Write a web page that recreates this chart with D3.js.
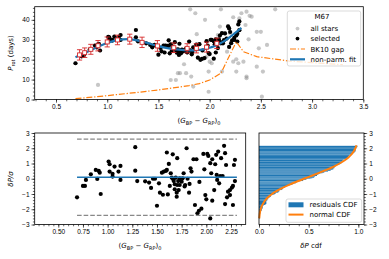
<!DOCTYPE html>
<html><head><meta charset="utf-8">
<script src="https://cdn.jsdelivr.net/npm/d3@7"></script>
<style>
body{margin:0;background:#fff}
svg{font-family:"DejaVu Sans",sans-serif}
.tick text{font-size:6.5px;fill:#000}
.tick line{stroke:#000;stroke-width:0.6}
</style></head><body>
<svg id="fig" width="389" height="259"></svg>
<script>
// selected M67 stars: colour, period (days), normalised residual
const starX = [0.69,0.75,0.77,0.78,0.83,0.88,0.895,0.91,0.92,0.93,1.01,1.02,1.02,1.05,1.05,1.07,1.11,1.13,1.13,1.28,1.28,1.30,1.38,1.42,1.44,1.46,1.48,1.50,1.52,1.53,1.55,1.56,1.57,1.59,1.60,1.60,1.61,1.62,1.63,1.64,1.65,1.66,1.665,1.67,1.68,1.68,1.69,1.70,1.70,1.705,1.705,1.715,1.72,1.73,1.73,1.75,1.76,1.77,1.78,1.785,1.80,1.81,1.825,1.83,1.84,1.85,1.87,1.885,1.90,1.91,1.925,1.93,1.95,1.97,1.98,1.99,2.00,2.01,2.02,2.04,2.04,2.05,2.06,2.06,2.08,2.09,2.10,2.105,2.11,2.12,2.13,2.14,2.15,2.165,2.18,2.19,2.19,2.20,2.21,2.22,2.24,2.26,2.27,2.27,2.28,2.29,2.29,2.24]
const starP = [18.2,21.7,22.1,23.1,25.1,27.1,26.2,27.7,27.8,24.6,31.4,31.2,29.9,30.0,29.6,31.6,31.2,29.9,32.4,34.9,31.2,29.2,28.2,27.4,26.2,27.4,27.1,22.5,25.9,24.2,27.1,23.6,27.1,27.0,27.0,29.7,23.2,27.7,24.3,26.2,25.5,28.8,25.1,24.9,24.3,23.5,25.2,23.0,22.4,28.0,24.1,24.6,23.2,25.0,24.0,24.4,24.9,25.6,23.6,23.8,29.1,24.7,22.7,23.9,26.2,25.7,27.6,21.0,27.8,19.9,20.4,24.6,20.8,29.3,27.1,23.3,22.8,30.0,29.9,20.5,29.2,27.8,30.2,23.6,25.8,30.2,32.1,28.8,28.2,33.3,28.2,29.8,33.2,30.6,36.7,35.7,26.4,33.9,28.3,29.7,30.9,32.2,33.0,29.1,37.7,34.8,39.2,29.9]
const starRes = [-1.22,-0.47,-0.47,-0.08,0.29,0.58,-0.01,0.51,0.40,-1.0,1.13,0.95,0.47,0.32,0.14,0.8,0.47,-0.08,0.84,2.07,0.53,-0.15,-0.17,-0.25,-0.6,0,0,-1.77,-0.3,-0.91,0.4,-1.05,0.47,0.51,0.58,1.72,-1.03,0.97,-0.47,0.36,0.07,1.6,-0.04,-0.15,-0.36,-0.69,0.07,-0.91,-1.18,1.35,-0.41,-0.15,-0.74,0.03,-0.41,-0.19,0.03,0.36,-0.5,-0.41,2.0,0,-0.91,-0.34,0.69,0.47,1.28,-1.72,1.28,-2.27,-2.1,-0.21,-1.96,1.63,0.62,-1.07,-1.35,1.63,1.5,-2.6,1.02,0.36,1.28,-1.44,-0.74,0.95,1.57,0.25,-0.08,1.78,-0.3,0.18,1.35,0.18,2.16,1.68,-1.66,0.9,-1.22,-0.85,-0.74,-0.58,-0.47,-1.72,0.9,-0.15,1.24,-1.07]

// the rest of "all stars"
const otherX = [0.91,1.81,1.874,1.62,1.67,1.69,1.71,1.75,1.77,1.82,1.955,2.11,2.23,2.29,2.31,2.36,2.39,2.41,2.64,2.35,2.46,2.50,2.38,2.56,2.48,2.46,2.52,2.26,2.33,2.26,2.36,1.99,2.51,1.86,2.10,2.08,2.20,1.97,2.00,2.02,2.17,2.23,2.28,1.99,2.12,2.36,1.84]
const otherP = [7.3,45.3,32.8,9.8,9.8,13.2,13.2,17.7,13.2,11.5,40,45.3,41.3,40.8,43.3,44.1,42,41.6,45.3,37.4,34,34,30.2,27.4,25.7,16.5,14,20.2,19,14,11.5,3.9,1.4,43.3,36.6,32.4,33.3,21.5,19,18.2,24,19,18.2,14,14,10.7,6.5]

// binned means
const binX = [0.73,0.78,0.84,0.91,1.00,1.10,1.22,1.34,1.49,1.65,1.78,1.87,1.97,2.07]
const binP = [22.4,23.5,25.2,27.0,28.9,29.9,30.3,28.7,26.9,26.0,25.7,25.7,26.3,28.2]
const binErr = [2.6,2.4,2.5,2.6,2.5,2.4,2.5,2.6,2.7,2.4,2.3,2.3,2.5,2.6]

// non-parametric fit
const fitX = [0.69,0.75,0.8,0.85,0.9,0.95,1.0,1.05,1.1,1.15,1.2,1.25,1.3,1.35,1.4,1.45,1.5,1.55,1.6,1.65,1.7,1.75,1.8,1.85,1.9,1.95,2.0,2.05,2.1,2.15,2.2,2.25,2.31]
const fitP = [21.2,22.6,23.8,25.0,26.3,27.4,28.4,29.2,29.8,30.2,30.3,30.1,29.6,29.0,28.3,27.5,26.8,26.2,25.7,25.3,25.0,24.8,24.7,24.7,24.9,25.3,26.0,26.9,28.1,29.6,31.4,33.5,36.0]

// BK10 gap
const gapX = [0.69,0.9,1.1,1.3,1.5,1.7,1.8,1.9,2.0,2.11,2.26,2.33,2.46,2.78,3.0,3.3]
const gapP = [0.4,1.4,2.5,3.6,4.8,6.2,7.0,8.0,9.8,13.2,29.0,24.0,21.5,19.3,18.5,17.5]

// normal CDF
const normY = [-2.6,-2.4,-2.2,-2.0,-1.8,-1.6,-1.4,-1.2,-1.0,-0.8,-0.6,-0.4,-0.2,0,0.2,0.4,0.6,0.8,1.0,1.2,1.4,1.6,1.8,2.0,2.2]
const normF = [0.003,0.006,0.010,0.017,0.027,0.043,0.064,0.093,0.131,0.179,0.236,0.302,0.375,0.452,0.532,0.610,0.684,0.752,0.811,0.860,0.900,0.931,0.954,0.970,0.981]

const resMean = 0.1, resHi = 2.6, resLo = -2.4

const BLUE="#1f77b4", ORANGE="#ff7f0e", RED="#d62728"
const svg = d3.select("#fig")

function axisG(orient, scale, pos, major, minor, fmt){
  const mk = orient=="bottom" ? d3.axisBottom : orient=="left" ? d3.axisLeft : d3.axisRight
  const tr = orient=="bottom" ? "translate(0,"+pos+")" : "translate("+pos+",0)"
  svg.append("g").attr("transform",tr)
    .call(mk(scale).tickValues(minor).tickSize(1.8).tickFormat(""))
    .call(g=>g.select(".domain").remove())
  svg.append("g").attr("transform",tr)
    .call(mk(scale).tickValues(major).tickSize(3.2).tickPadding(2).tickFormat(fmt))
    .call(g=>g.select(".domain").remove())
}
function frame(x0,y0,x1,y1){
  svg.append("rect").attr("x",x0).attr("y",y0).attr("width",x1-x0).attr("height",y1-y0)
    .attr("fill","none").attr("stroke","#000").attr("stroke-width",0.8)
}
function mathText(x,y,parts,rot){
  const t = svg.append("text").attr("x",x).attr("y",y).attr("text-anchor","middle").style("font-size","7px")
  if(rot) t.attr("transform","rotate(-90,"+x+","+y+")")
  let shift = 0
  parts.forEach(p=>{
    const s = t.append("tspan").text(p[0])
    const want = p[1]=="sub" ? 1.6 : 0
    if(want!=shift){ s.attr("dy",want-shift); shift=want }
    if(p[1]=="i") s.style("font-style","italic")
    if(p[1]=="sub") s.style("font-size","5px")
  })
}
const steps = (a,b,s)=>d3.range(Math.round((b-a)/s)+1).map(i=>+(a+i*s).toFixed(3))

// ---------- top panel
const xT = d3.scaleLinear().domain([0.292,3.5]).range([34.7,363.3])
const yT = d3.scaleLinear().domain([0,46.6]).range([99.5,6.7])
svg.append("clipPath").attr("id","cT").append("rect").attr("x",34.7).attr("y",6.7).attr("width",328.6).attr("height",92.8)
const gT = svg.append("g").attr("clip-path","url(#cT)")
gT.selectAll(null).data(d3.zip(otherX.concat(starX),otherP.concat(starP))).join("circle")
  .attr("cx",d=>xT(d[0])).attr("cy",d=>yT(d[1])).attr("r",2.1).attr("fill","#808080").attr("opacity",0.45)
gT.selectAll(null).data(d3.zip(starX,starP)).join("circle")
  .attr("cx",d=>xT(d[0])).attr("cy",d=>yT(d[1])).attr("r",2.1).attr("fill","#000")
gT.append("path").datum(d3.zip(gapX,gapP))
  .attr("d",d3.line().x(d=>xT(d[0])).y(d=>yT(d[1])))
  .attr("fill","none").attr("stroke",ORANGE).attr("stroke-width",1.2).attr("stroke-dasharray","6,1.8,1.3,1.8")
gT.append("path").datum(d3.zip(fitX,fitP))
  .attr("d",d3.line().curve(d3.curveMonotoneX).x(d=>xT(d[0])).y(d=>yT(d[1])))
  .attr("fill","none").attr("stroke",BLUE).attr("stroke-width",2.2)
const bins = d3.zip(binX,binP,binErr)
gT.selectAll(null).data(bins).join("path")
  .attr("d",d=>{const x=xT(d[0]),a=yT(d[1]-d[2]),b=yT(d[1]+d[2]);return "M"+x+","+a+"V"+b+"M"+(x-2.6)+","+a+"h5.2M"+(x-2.6)+","+b+"h5.2"})
  .attr("stroke",RED).attr("stroke-width",0.9).attr("fill","none")
gT.selectAll(null).data(bins).join("rect")
  .attr("x",d=>xT(d[0])-2).attr("y",d=>yT(d[1])-2).attr("width",4).attr("height",4)
  .attr("fill","#fff").attr("stroke",RED).attr("stroke-width",0.9)
frame(34.7,6.7,363.3,99.5)
axisG("left",yT,34.7,[0,10,20,30,40],steps(0,46,2),d3.format("d"))
axisG("bottom",xT,99.5,[0.5,1,1.5,2,2.5,3,3.5],steps(0.3,3.5,0.1),d3.format(".1f"))
mathText(199,123,[["(","n"],["G","i"],["BP","sub"],[" − ","n"],["G","i"],["RP","sub"],[")","n"],["0","sub"]])
mathText(13,53,[["P","i"],["rot","sub"],[" (days)","n"]],true)

// legend top
const lg = svg.append("g")
lg.append("rect").attr("x",287.3).attr("y",11).attr("width",73.4).attr("height",55).attr("rx",2)
  .attr("fill","#fff").attr("fill-opacity",0.8).attr("stroke","#ccc").attr("stroke-width",0.7)
lg.append("text").attr("x",322).attr("y",19.3).attr("text-anchor","middle").style("font-size","7px").text("M67")
const legRows = [["all stars",28.6],["selected",38.6],["BK10 gap",49],["non-parm. fit",59.3]]
lg.selectAll(null).data(legRows).join("text").attr("x",310.5).attr("y",d=>d[1]+2.5).style("font-size","7px").text(d=>d[0])
lg.append("circle").attr("cx",297.5).attr("cy",28.6).attr("r",1.9).attr("fill","#808080").attr("opacity",0.45)
lg.append("circle").attr("cx",297.5).attr("cy",38.6).attr("r",1.9).attr("fill","#000")
lg.append("line").attr("x1",290).attr("x2",305).attr("y1",49).attr("y2",49).attr("stroke",ORANGE).attr("stroke-width",1.2).attr("stroke-dasharray","6,1.8,1.3,1.8")
lg.append("line").attr("x1",290).attr("x2",305).attr("y1",59.3).attr("y2",59.3).attr("stroke",BLUE).attr("stroke-width",2.2)

// ---------- bottom left: residuals
const xB = d3.scaleLinear().domain([0.261,2.399]).range([34.7,245.7])
const yB = d3.scaleLinear().domain([-3,3]).range([224.5,133])
svg.selectAll(null).data(d3.zip(starX,starRes)).join("circle")
  .attr("cx",d=>xB(d[0])).attr("cy",d=>yB(d[1])).attr("r",2.1).attr("fill","#000")
const xr = d3.extent(starX)
svg.selectAll(null).data([resHi,resLo]).join("line")
  .attr("x1",xB(xr[0])).attr("x2",xB(xr[1]+0.02)).attr("y1",d=>yB(d)).attr("y2",d=>yB(d))
  .attr("stroke","#888").attr("stroke-width",1.3).attr("stroke-dasharray","4.6,2")
svg.append("line").attr("x1",xB(xr[0])).attr("x2",xB(xr[1]+0.02)).attr("y1",yB(resMean)).attr("y2",yB(resMean))
  .attr("stroke",BLUE).attr("stroke-width",1.5)
frame(34.7,133,245.7,224.5)
axisG("left",yB,34.7,[-3,-2,-1,0,1,2,3],steps(-3,3,0.2),d3.format("d"))
axisG("bottom",xB,224.5,[0.5,0.75,1,1.25,1.5,1.75,2,2.25],steps(0.3,2.35,0.05),d3.format(".2f"))
mathText(140,248,[["(","n"],["G","i"],["BP","sub"],[" − ","n"],["G","i"],["RP","sub"],[")","n"],["0","sub"]])
mathText(13,179,[["δP/σ","i"]],true)

// ---------- bottom right: CDF
const xC = d3.scaleLinear().domain([0,1.057]).range([259,364])
const sorted = d3.sort(starRes)
const n = sorted.length
svg.selectAll(null).data(sorted.slice(0,-1)).join("rect")
  .attr("x",xC(0)).attr("y",(d,i)=>yB(sorted[i+1])).attr("width",(d,i)=>xC((i+1)/n)-xC(0))
  .attr("height",(d,i)=>yB(d)-yB(sorted[i+1])).attr("fill",BLUE)
svg.append("path").datum(d3.zip(normF,normY))
  .attr("d",d3.line().curve(d3.curveMonotoneY).x(d=>xC(d[0])).y(d=>yB(d[1])))
  .attr("fill","none").attr("stroke",ORANGE).attr("stroke-width",2)
frame(259,133,364,224.5)
axisG("right",yB,364,[-3,-2,-1,0,1,2,3],steps(-3,3,0.2),d3.format("d"))
axisG("bottom",xC,224.5,[0,0.5,1],steps(0,1,0.1),d3.format(".1f"))
mathText(311,248,[["δP","i"],[" cdf","n"]])
const lc = svg.append("g")
lc.append("rect").attr("x",286).attr("y",199).attr("width",75.7).attr("height",23.3).attr("rx",2)
  .attr("fill","#fff").attr("fill-opacity",0.8).attr("stroke","#ccc").attr("stroke-width",0.7)
lc.append("rect").attr("x",288.5).attr("y",202.3).attr("width",15).attr("height",5).attr("fill",BLUE)
lc.append("line").attr("x1",288.5).attr("x2",303.5).attr("y1",214.6).attr("y2",214.6).attr("stroke",ORANGE).attr("stroke-width",2)
lc.append("text").attr("x",309.5).attr("y",207.3).style("font-size","7px").text("residuals CDF")
lc.append("text").attr("x",309.5).attr("y",217.1).style("font-size","7px").text("normal CDF")
</script></body></html>
